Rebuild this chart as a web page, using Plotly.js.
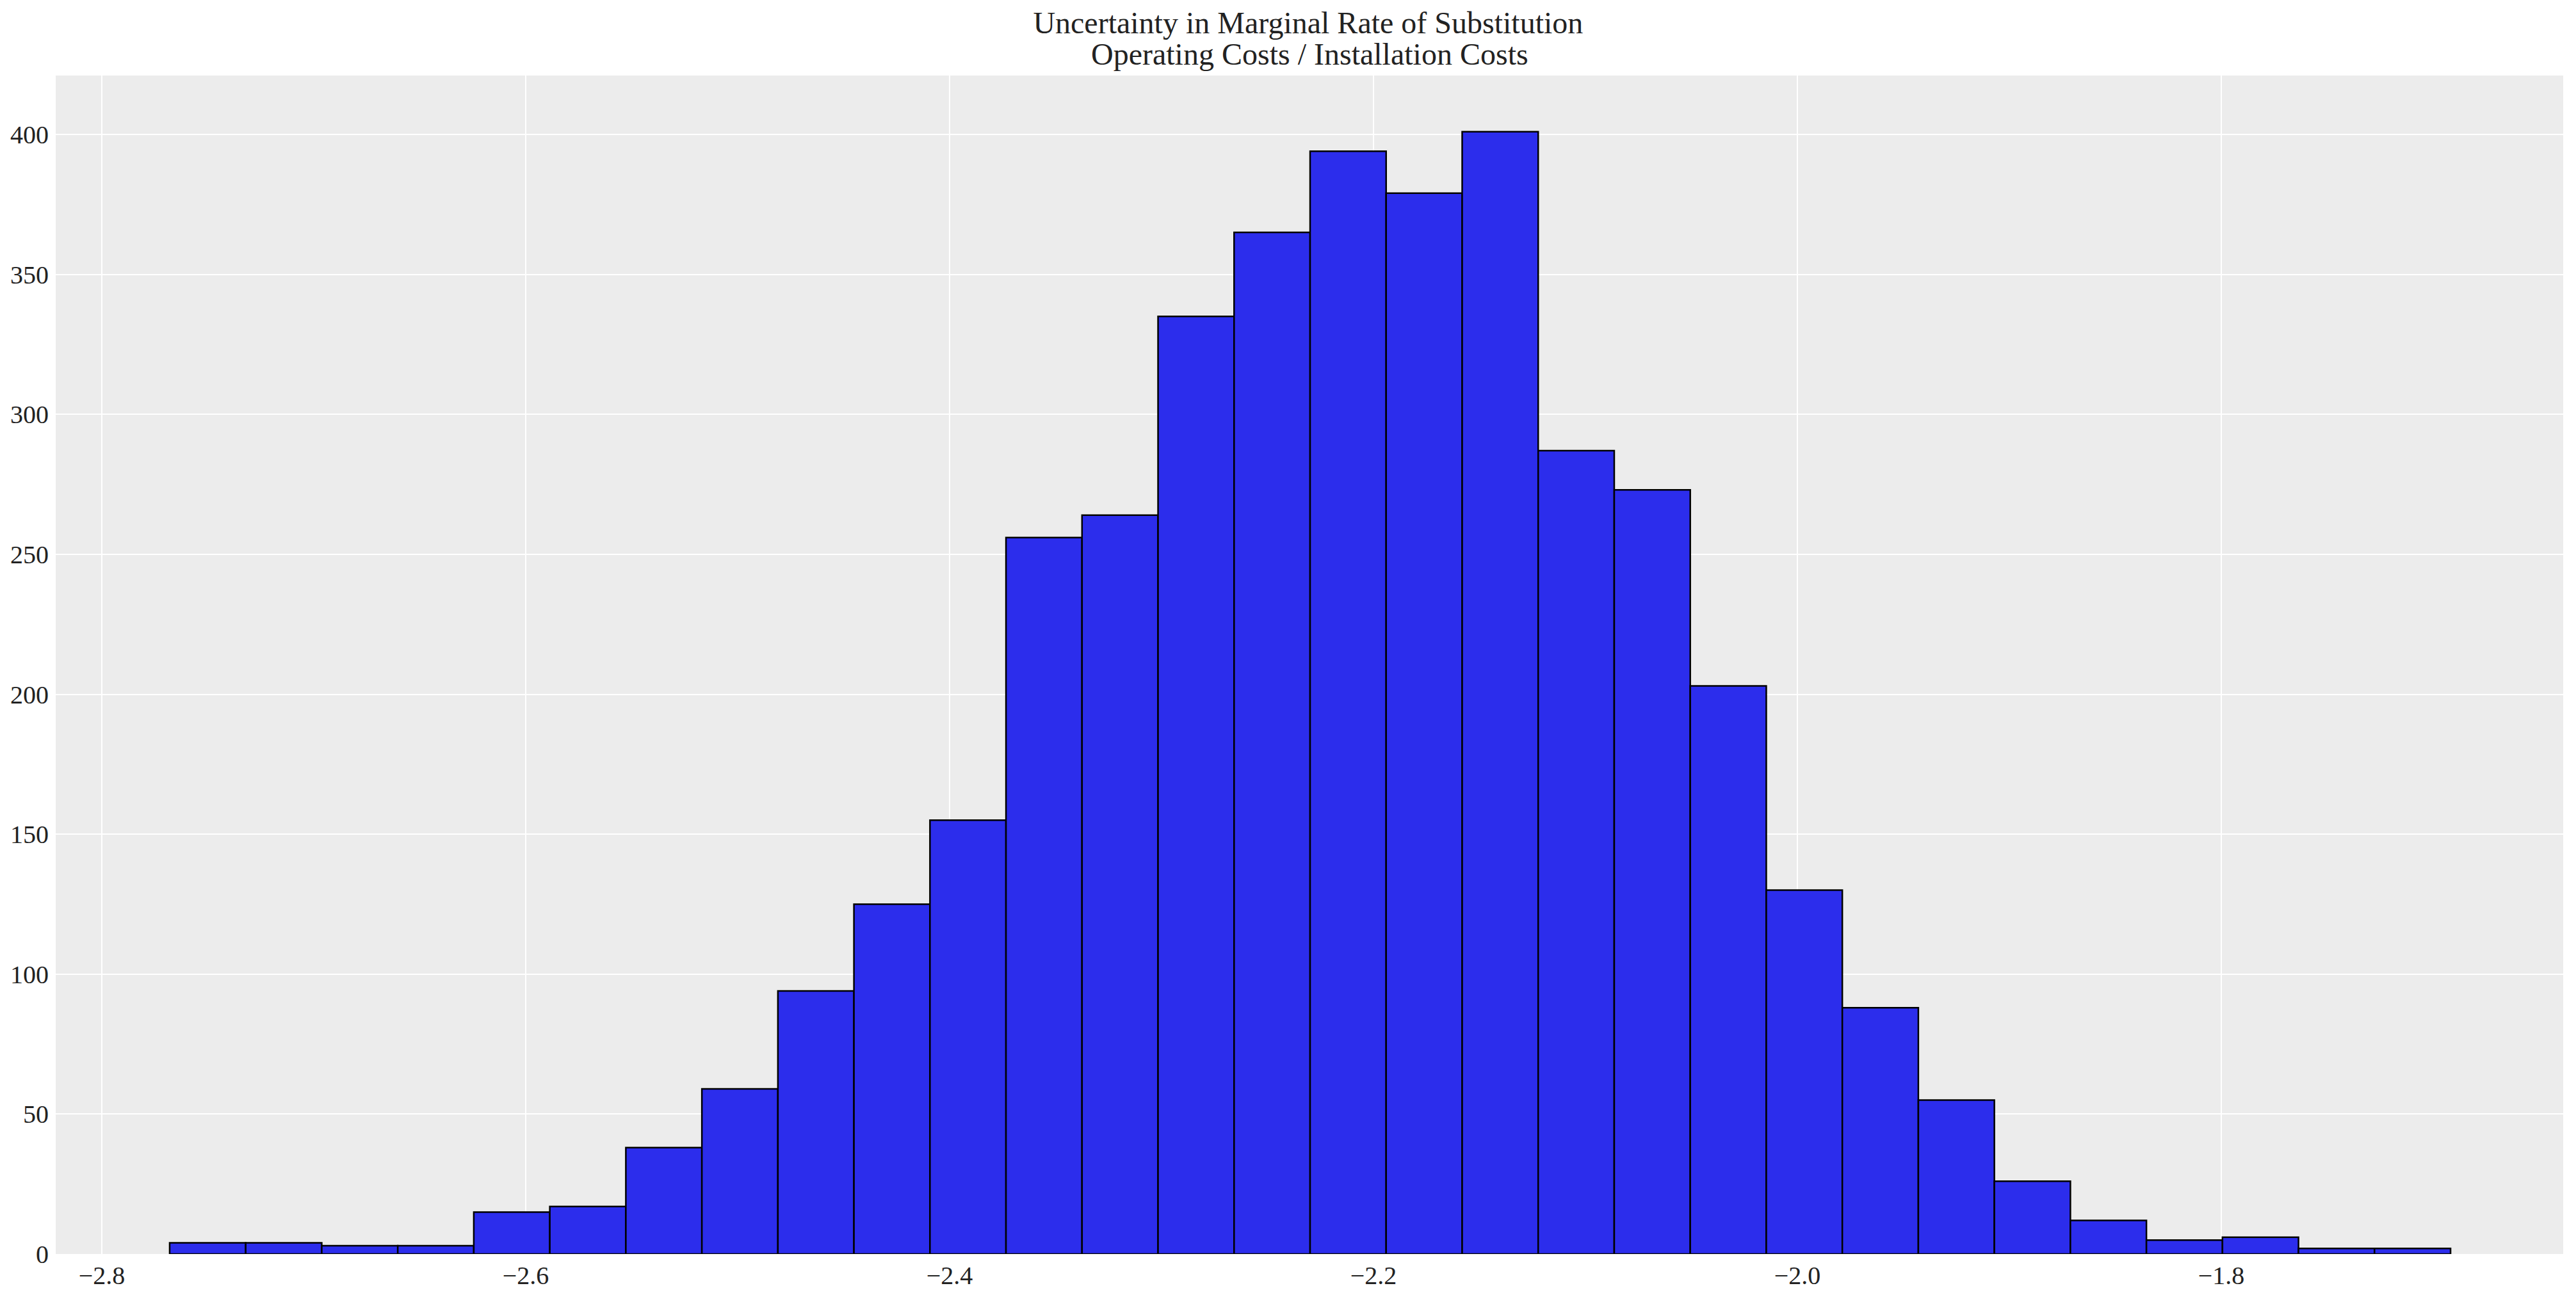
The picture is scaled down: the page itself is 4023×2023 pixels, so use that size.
<!DOCTYPE html>
<html>
<head>
<meta charset="utf-8">
<script src="https://cdn.plot.ly/plotly-3.0.1.min.js"></script>
<style>html,body{margin:0;padding:0;background:#fff;}#chart{width:4023px;height:2023px;}</style>
</head>
<body>
<div id="chart"></div>
<script>
// Histogram data
const binStart = -2.76798;   // left edge of first bin
const binWidth = 0.035871;   // width of each bin
const counts = [4, 4, 3, 3, 15, 17, 38, 59, 94, 125, 155, 256, 264, 335, 365, 394, 379, 401, 287, 273, 203, 130, 88, 55, 26, 12, 5, 6, 2, 2];
const xTickValues = [-2.8, -2.6, -2.4, -2.2, -2.0, -1.8];
const yTickValues = [0, 50, 100, 150, 200, 250, 300, 350, 400];
const titleLine1 = 'Uncertainty in Marginal Rate of Substitution';
const titleLine2 = 'Operating Costs / Installation Costs';

const centers = counts.map((c, i) => binStart + binWidth * (i + 0.5));

const serif = '"Liberation Serif", "DejaVu Serif", serif';

const trace = {
  type: 'bar',
  x: centers,
  y: counts,
  width: centers.map(() => binWidth),
  marker: {color: 'rgb(44,45,236)', line: {color: '#000', width: 2.5}},
  hoverinfo: 'x+y'
};

const layout = {
  width: 4023,
  height: 2023,
  margin: {l: 87, r: 20, t: 118, b: 64},
  paper_bgcolor: '#ffffff',
  plot_bgcolor: '#ececec',
  bargap: 0,
  showlegend: false,
  font: {family: serif, color: '#222', size: 40},
  title: {
    text: titleLine1,
    font: {family: serif, size: 48, color: '#222'},
    x: 0.5078, xref: 'container', xanchor: 'center',
    y: 1 - 35 / 2023, yref: 'container', yanchor: 'middle'
  },
  annotations: [{
    text: titleLine2,
    xref: 'paper', yref: 'paper',
    x: 0.5, y: 1 + (118 - 85) / 1841,
    xanchor: 'center', yanchor: 'middle',
    showarrow: false,
    font: {family: serif, size: 48, color: '#222'}
  }],
  xaxis: {
    range: [-2.82175, -1.6387],
    tickvals: xTickValues,
    tickformat: '.1f',
    showgrid: true, gridcolor: '#ffffff', gridwidth: 2,
    zeroline: false, showline: false, ticks: '',
    ticklabelstandoff: 6,
    tickfont: {family: serif, size: 40, color: '#222'}
  },
  yaxis: {
    range: [0, 421.05],
    tickvals: yTickValues,
    showgrid: true, gridcolor: '#ffffff', gridwidth: 2,
    zeroline: false, showline: false, ticks: '',
    ticklabelstandoff: 10,
    tickfont: {family: serif, size: 40, color: '#222'}
  }
};

Plotly.newPlot('chart', [trace], layout, {displayModeBar: false, staticPlot: true});
</script>
</body>
</html>
